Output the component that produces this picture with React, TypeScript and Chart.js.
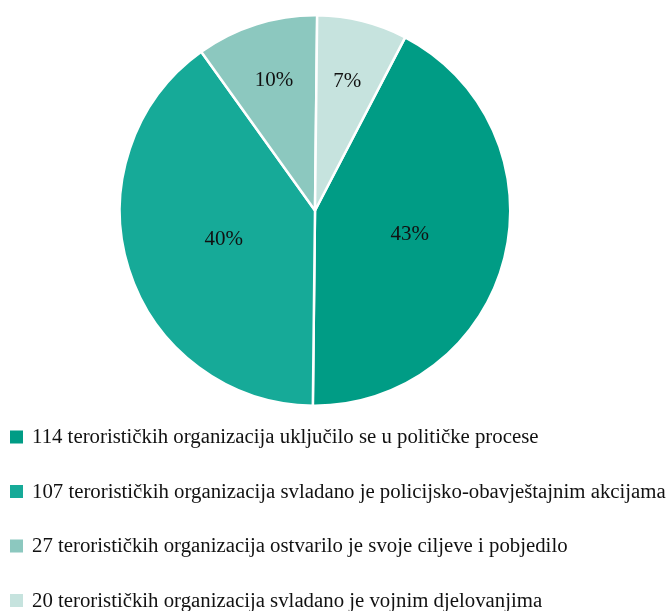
import React, { useEffect, useRef } from "react";
import { Chart, registerables } from "chart.js";

Chart.register(...registerables);

const categories = [
  "114 terorističkih organizacija uključilo se u političke procese",
  "107 terorističkih organizacija svladano je policijsko-obavještajnim akcijama",
  "27 terorističkih organizacija ostvarilo je svoje ciljeve i pobjedilo",
  "20 terorističkih organizacija svladano je vojnim djelovanjima",
];
const values = [114, 107, 27, 20];
const colors = ["#009c85", "#16aa98", "#8cc8bf", "#c6e3de"];
const labelRadius = [0.5, 0.49, 0.7, 0.68];

const FONT = "'Liberation Serif', 'DejaVu Serif', serif";

const pieLabels = {
  id: "pieLabels",
  afterDatasetsDraw(chart: any) {
    const ctx = chart.ctx;
    const meta = chart.getDatasetMeta(0);
    const data = chart.data.datasets[0].data as number[];
    const total = data.reduce((a, b) => a + b, 0);
    ctx.save();
    ctx.font = `21px ${FONT}`;
    ctx.fillStyle = "#111111";
    ctx.textAlign = "center";
    ctx.textBaseline = "middle";
    meta.data.forEach((arc: any, i: number) => {
      const { x, y, startAngle, endAngle, outerRadius } = arc.getProps(
        ["x", "y", "startAngle", "endAngle", "outerRadius"],
        true
      );
      const mid = (startAngle + endAngle) / 2;
      const r = outerRadius * labelRadius[i];
      const pct = Math.round((data[i] / total) * 100) + "%";
      ctx.fillText(pct, x + Math.cos(mid) * r, y + Math.sin(mid) * r);
    });
    ctx.restore();
  },
};

const bottomLegend = {
  id: "bottomLegend",
  afterDraw(chart: any) {
    const ctx = chart.ctx;
    const labels = chart.data.labels as string[];
    const bg = chart.data.datasets[0].backgroundColor as string[];
    const top = chart.chartArea.bottom + 30;
    ctx.save();
    ctx.font = `20.8px ${FONT}`;
    ctx.textAlign = "left";
    ctx.textBaseline = "middle";
    labels.forEach((t, i) => {
      const cy = top + i * 54.5;
      ctx.fillStyle = bg[i];
      ctx.fillRect(10, cy - 6.5, 13, 13);
      ctx.fillStyle = "#111111";
      ctx.fillText(t, 32, cy + 1);
    });
    ctx.restore();
  },
};

export default function App() {
  const ref = useRef<HTMLCanvasElement | null>(null);
  useEffect(() => {
    if (!ref.current) return;
    const chart = new Chart(ref.current, {
      type: "pie",
      data: {
        labels: categories,
        datasets: [
          {
            data: values,
            backgroundColor: colors,
            borderColor: "#ffffff",
            borderWidth: 2.5,
          },
        ],
      },
      options: {
        responsive: false,
        animation: false,
        rotation: 27.5,
        layout: { padding: { top: 14, bottom: 204, left: 0, right: 37 } },
        plugins: {
          legend: { display: false },
          tooltip: { enabled: false },
        },
      },
      plugins: [pieLabels, bottomLegend],
    });
    return () => chart.destroy();
  }, []);
  return (
    <div style={{ position: "fixed", left: 0, top: 0, width: 667, height: 611, background: "#fff" }}>
      <canvas ref={ref} width={667} height={611} />
    </div>
  );
}
